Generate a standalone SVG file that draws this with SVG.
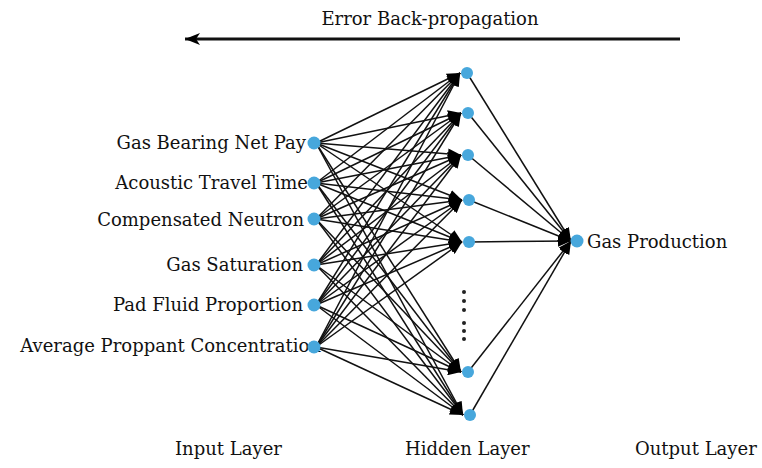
<svg xmlns="http://www.w3.org/2000/svg" width="762" height="468" viewBox="0 0 762 468">
<style>
text{font-family:"DejaVu Serif","Liberation Serif",serif;font-size:18px;fill:#111}
.lbl{text-anchor:end}
.node{fill:#47a7dc}
#connectors line{stroke:#111;stroke-width:1.5}
.dot{fill:#222}
</style>
<defs>
<marker id="ah" markerUnits="userSpaceOnUse" markerWidth="13" markerHeight="11" refX="13" refY="5.5" orient="auto">
<path d="M0,0 L13,5.5 L0,11 z" fill="#000"/>
</marker>
<marker id="ah2" markerUnits="userSpaceOnUse" markerWidth="15" markerHeight="12" refX="15" refY="6" orient="auto">
<path d="M0,0 L15,6 L0,12 L4,6 z" fill="#000"/>
</marker>
</defs>
<rect width="762" height="468" fill="#fff"/>
<g id="backprop">
<text x="430" y="25" text-anchor="middle">Error Back-propagation</text>
<line x1="680" y1="39" x2="185" y2="39" stroke="#111" stroke-width="3" marker-end="url(#ah2)"/>
</g>
<g id="connectors">
<g marker-end="url(#ah)">
<line x1="316" y1="143" x2="460" y2="73"/><line x1="316" y1="143" x2="461" y2="113"/><line x1="316" y1="143" x2="461" y2="155"/><line x1="316" y1="143" x2="462" y2="200"/><line x1="316" y1="143" x2="462" y2="242"/><line x1="316" y1="143" x2="461" y2="372"/><line x1="316" y1="143" x2="463" y2="415"/>
<line x1="316" y1="183" x2="460" y2="73"/><line x1="316" y1="183" x2="461" y2="113"/><line x1="316" y1="183" x2="461" y2="155"/><line x1="316" y1="183" x2="462" y2="200"/><line x1="316" y1="183" x2="462" y2="242"/><line x1="316" y1="183" x2="461" y2="372"/><line x1="316" y1="183" x2="463" y2="415"/>
<line x1="316" y1="219" x2="460" y2="73"/><line x1="316" y1="219" x2="461" y2="113"/><line x1="316" y1="219" x2="461" y2="155"/><line x1="316" y1="219" x2="462" y2="200"/><line x1="316" y1="219" x2="462" y2="242"/><line x1="316" y1="219" x2="461" y2="372"/><line x1="316" y1="219" x2="463" y2="415"/>
<line x1="316" y1="265" x2="460" y2="73"/><line x1="316" y1="265" x2="461" y2="113"/><line x1="316" y1="265" x2="461" y2="155"/><line x1="316" y1="265" x2="462" y2="200"/><line x1="316" y1="265" x2="462" y2="242"/><line x1="316" y1="265" x2="461" y2="372"/><line x1="316" y1="265" x2="463" y2="415"/>
<line x1="316" y1="305" x2="460" y2="73"/><line x1="316" y1="305" x2="461" y2="113"/><line x1="316" y1="305" x2="461" y2="155"/><line x1="316" y1="305" x2="462" y2="200"/><line x1="316" y1="305" x2="462" y2="242"/><line x1="316" y1="305" x2="461" y2="372"/><line x1="316" y1="305" x2="463" y2="415"/>
<line x1="316" y1="347" x2="460" y2="73"/><line x1="316" y1="347" x2="461" y2="113"/><line x1="316" y1="347" x2="461" y2="155"/><line x1="316" y1="347" x2="462" y2="200"/><line x1="316" y1="347" x2="462" y2="242"/><line x1="316" y1="347" x2="461" y2="372"/><line x1="316" y1="347" x2="463" y2="415"/>
<line x1="467" y1="73" x2="571" y2="241"/><line x1="468" y1="113" x2="571" y2="241"/><line x1="468" y1="155" x2="571" y2="241"/><line x1="469" y1="200" x2="571" y2="241"/><line x1="469" y1="242" x2="571" y2="241"/><line x1="468" y1="372" x2="571" y2="241"/><line x1="470" y1="415" x2="571" y2="241"/>
</g>
</g>
<g id="in1"><circle class="node" cx="314" cy="143" r="6.5"/><text class="lbl" x="306" y="149">Gas Bearing Net Pay</text></g>
<g id="in2"><circle class="node" cx="314" cy="183" r="6.5"/><text class="lbl" x="308" y="189">Acoustic Travel Time</text></g>
<g id="in3"><circle class="node" cx="314" cy="219" r="6.5"/><text class="lbl" x="304" y="226">Compensated Neutron</text></g>
<g id="in4"><circle class="node" cx="314" cy="265" r="6.5"/><text class="lbl" x="303" y="271">Gas Saturation</text></g>
<g id="in5"><circle class="node" cx="314" cy="305" r="6.5"/><text class="lbl" x="303" y="311">Pad Fluid Proportion</text></g>
<g id="in6"><text class="lbl" x="321" y="352">Average Proppant Concentration</text><circle class="node" cx="314" cy="347" r="6.5"/></g>
<g id="h1"><circle class="node" cx="467" cy="73" r="6"/></g>
<g id="h2"><circle class="node" cx="468" cy="113" r="6"/></g>
<g id="h3"><circle class="node" cx="468" cy="155" r="6"/></g>
<g id="h4"><circle class="node" cx="469" cy="200" r="6"/></g>
<g id="h5"><circle class="node" cx="469" cy="242" r="6"/></g>
<g id="hdots"><circle class="dot" cx="464" cy="292" r="2"/><circle class="dot" cx="464" cy="301" r="2"/><circle class="dot" cx="464" cy="310" r="2"/><circle class="dot" cx="464" cy="323" r="2"/><circle class="dot" cx="464" cy="331" r="2"/><circle class="dot" cx="464" cy="339" r="2"/></g>
<g id="h6"><circle class="node" cx="468" cy="372" r="6"/></g>
<g id="h7"><circle class="node" cx="470" cy="415" r="6"/></g>
<g id="out"><circle class="node" cx="577" cy="241" r="6.5"/><text x="587" y="248">Gas Production</text></g>
<g id="layers">
<text x="175" y="455">Input Layer</text>
<text x="405" y="455">Hidden Layer</text>
<text x="635" y="455">Output Layer</text>
</g>
</svg>
